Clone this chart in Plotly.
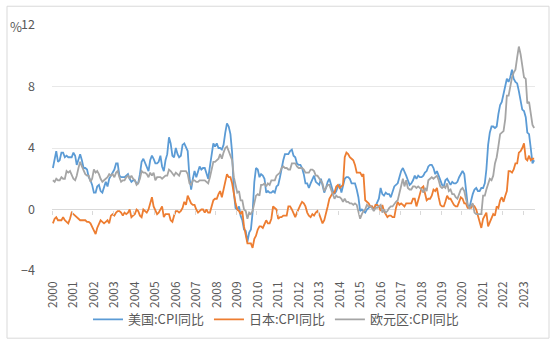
import pandas as pd
import plotly.graph_objects as go

# Monthly observations, 2000-01 .. 2023-07
months = pd.date_range("2000-01-01", "2023-07-01", freq="MS")

us_cpi = [
    2.7, 3.2, 3.8, 3.1, 3.2, 3.7, 3.7, 3.4, 3.5, 3.4, 3.4, 3.4,
    3.7, 3.5, 2.9, 3.3, 3.6, 3.2, 2.7, 2.7, 2.6, 2.1, 1.9, 1.6,
    1.1, 1.1, 1.5, 1.6, 1.2, 1.1, 1.5, 1.8, 1.5, 2.0, 2.2, 2.4,
    2.6, 3.0, 3.0, 2.2, 2.1, 2.1, 2.1, 2.2, 2.3, 2.0, 1.8, 1.9,
    1.9, 1.7, 1.7, 2.3, 3.1, 3.3, 3.0, 2.7, 2.5, 3.2, 3.5, 3.3,
    3.0, 3.0, 3.1, 3.5, 2.8, 2.5, 3.2, 3.6, 4.7, 4.3, 3.5, 3.4,
    4.0, 3.6, 3.4, 3.5, 4.2, 4.3, 4.1, 3.8, 2.1, 1.3, 2.0, 2.5,
    2.1, 2.4, 2.8, 2.6, 2.7, 2.7, 2.4, 2.0, 2.8, 3.5, 4.3, 4.1,
    4.3, 4.0, 4.0, 3.9, 4.2, 5.0, 5.6, 5.4, 4.9, 3.7, 1.1, 0.1,
    0.0, 0.2, -0.4, -0.7, -1.3, -1.4, -2.1, -1.5, -1.3, -0.2, 1.8, 2.7,
    2.6, 2.1, 2.3, 2.2, 2.0, 1.1, 1.2, 1.1, 1.1, 1.2, 1.1, 1.5,
    1.6, 2.1, 2.7, 3.2, 3.6, 3.6, 3.6, 3.8, 3.9, 3.5, 3.4, 3.0,
    2.9, 2.9, 2.7, 2.3, 1.7, 1.7, 1.4, 1.7, 2.0, 2.2, 1.8, 1.7,
    1.6, 2.0, 1.5, 1.1, 1.4, 1.8, 2.0, 1.5, 1.2, 1.0, 1.2, 1.5,
    1.6, 1.1, 1.5, 2.0, 2.1, 2.1, 2.0, 1.7, 1.7, 1.7, 1.3, 0.8,
    -0.1, 0.0, -0.1, -0.2, 0.0, 0.1, 0.2, 0.2, 0.0, 0.2, 0.5, 0.7,
    1.4, 1.0, 0.9, 1.1, 1.0, 1.0, 0.8, 1.1, 1.5, 1.6, 1.7, 2.1,
    2.5, 2.7, 2.4, 2.2, 1.9, 1.6, 1.7, 1.9, 2.2, 2.0, 2.2, 2.1,
    2.1, 2.2, 2.4, 2.5, 2.8, 2.9, 2.9, 2.7, 2.3, 2.5, 2.2, 1.9,
    1.6, 1.5, 1.9, 2.0, 1.8, 1.6, 1.8, 1.7, 1.7, 1.8, 2.1, 2.3,
    2.5, 2.3, 1.5, 0.3, 0.1, 0.6, 1.0, 1.3, 1.4, 1.2, 1.2, 1.4,
    1.4, 1.7, 2.6, 4.2, 5.0, 5.4, 5.4, 5.3, 5.4, 6.2, 6.8, 7.0,
    7.5, 7.9, 8.5, 8.3, 8.6, 9.1, 8.5, 8.3, 8.2, 7.7, 7.1, 6.5,
    6.4, 6.0, 5.0, 4.9, 4.0, 3.0, 3.2,
]

jp_cpi = [
    -0.9, -0.6, -0.5, -0.7, -0.7, -0.7, -0.5, -0.7, -0.8, -0.9, -0.6, -0.2,
    -0.3, -0.4, -0.5, -0.6, -0.7, -0.7, -0.7, -0.7, -0.8, -0.8, -0.9, -1.1,
    -1.4, -1.6, -1.2, -0.9, -0.7, -0.8, -0.9, -0.8, -0.7, -0.9, -0.4, -0.3,
    -0.4, -0.2, -0.1, -0.1, -0.2, -0.4, -0.2, -0.3, -0.2, 0.0, -0.5, -0.4,
    -0.3, 0.0, -0.1, -0.4, -0.5, 0.0, -0.1, -0.2, 0.0, 0.5, 0.8, 0.2,
    -0.1, -0.3, -0.2, 0.0, 0.2, -0.5, -0.3, -0.3, -0.3, -0.7, -0.8, -0.4,
    -0.1, -0.1, -0.2, -0.1, 0.1, 0.5, 0.3, 0.9, 0.6, 0.4, 0.3, 0.3,
    0.0, -0.2, -0.1, 0.0, 0.0, -0.2, 0.0, -0.2, -0.2, 0.3, 0.6, 0.7,
    0.7, 1.0, 1.2, 0.8, 1.3, 2.0, 2.3, 2.1, 2.1, 1.7, 1.0, 0.4,
    0.0, -0.1, -0.3, -0.1, -1.1, -1.8, -2.2, -2.2, -2.2, -2.5, -1.9, -1.7,
    -1.3, -1.1, -1.1, -1.2, -0.9, -0.7, -0.9, -0.9, -0.6, 0.2, 0.1, 0.0,
    -0.6, -0.5, -0.5, -0.4, -0.4, -0.4, 0.2, 0.2, 0.0, -0.2, -0.5, -0.2,
    0.1, 0.3, 0.5, 0.4, 0.2, -0.2, -0.4, -0.5, -0.3, -0.4, -0.2, -0.1,
    -0.3, -0.7, -0.9, -0.7, -0.3, 0.2, 0.7, 0.9, 1.1, 1.1, 1.5, 1.6,
    1.4, 1.5, 1.6, 3.4, 3.7, 3.6, 3.4, 3.3, 3.2, 2.9, 2.4, 2.4,
    2.4, 2.2, 2.3, 0.6, 0.5, 0.4, 0.2, 0.2, 0.0, 0.3, 0.3, 0.2,
    -0.1, 0.3, -0.1, -0.3, -0.5, -0.4, -0.4, -0.5, -0.5, 0.1, 0.5, 0.3,
    0.4, 0.3, 0.2, 0.4, 0.4, 0.4, 0.4, 0.7, 0.7, 0.2, 0.6, 1.0,
    1.4, 1.5, 1.1, 0.6, 0.7, 0.7, 0.9, 1.3, 1.2, 1.4, 0.8, 0.3,
    0.2, 0.2, 0.5, 0.9, 0.7, 0.7, 0.5, 0.3, 0.2, 0.2, 0.5, 0.8,
    0.7, 0.4, 0.4, 0.1, 0.1, 0.1, 0.3, 0.2, 0.0, -0.4, -0.9, -1.2,
    -0.6, -0.4, -0.2, -1.1, -0.8, -0.5, -0.3, -0.4, 0.2, 0.1, 0.6, 0.8,
    0.5, 0.9, 1.2, 2.5, 2.5, 2.4, 2.6, 3.0, 3.0, 3.7, 3.8, 4.0,
    4.3, 3.3, 3.2, 3.5, 3.2, 3.3, 3.3,
]

ea_cpi = [
    1.9, 1.8, 2.0, 1.9, 1.9, 2.1, 2.0, 2.0, 2.5, 2.4, 2.5, 2.2,
    2.0, 1.9, 2.2, 2.7, 3.1, 2.8, 2.6, 2.3, 2.2, 2.2, 1.8, 2.0,
    2.6, 2.4, 2.5, 2.3, 2.0, 1.8, 1.9, 2.0, 2.1, 2.3, 2.2, 2.3,
    2.1, 2.4, 2.5, 2.1, 1.8, 1.9, 1.9, 2.1, 2.2, 2.0, 2.2, 2.0,
    1.9, 1.6, 1.7, 2.0, 2.5, 2.4, 2.4, 2.3, 2.1, 2.4, 2.2, 2.4,
    1.9, 2.1, 2.1, 2.1, 2.0, 2.1, 2.2, 2.2, 2.6, 2.5, 2.3, 2.2,
    2.4, 2.3, 2.2, 2.5, 2.5, 2.5, 2.5, 2.3, 1.7, 1.6, 1.9, 1.9,
    1.8, 1.8, 1.9, 1.9, 1.9, 1.9, 1.8, 1.7, 2.1, 2.6, 3.1, 3.1,
    3.2, 3.3, 3.6, 3.3, 3.7, 4.0, 4.1, 3.8, 3.6, 3.2, 2.1, 1.6,
    1.1, 1.2, 0.6, 0.6, 0.0, -0.1, -0.6, -0.2, -0.3, -0.1, 0.5, 0.9,
    1.0, 0.9, 1.6, 1.6, 1.7, 1.5, 1.7, 1.6, 1.9, 1.9, 1.9, 2.2,
    2.3, 2.4, 2.7, 2.8, 2.7, 2.7, 2.6, 2.6, 3.0, 3.0, 3.0, 2.8,
    2.7, 2.7, 2.7, 2.6, 2.4, 2.4, 2.4, 2.6, 2.6, 2.5, 2.2, 2.2,
    2.0, 1.8, 1.7, 1.2, 1.4, 1.6, 1.6, 1.3, 1.1, 0.7, 0.9, 0.8,
    0.8, 0.7, 0.5, 0.7, 0.5, 0.5, 0.4, 0.4, 0.3, 0.4, 0.3, -0.2,
    -0.6, -0.3, -0.1, 0.0, 0.3, 0.2, 0.2, 0.1, -0.1, 0.1, 0.1, 0.2,
    0.3, -0.2, 0.0, -0.2, -0.1, 0.1, 0.2, 0.2, 0.4, 0.5, 0.6, 1.1,
    1.7, 2.0, 1.5, 1.9, 1.4, 1.3, 1.3, 1.5, 1.5, 1.4, 1.5, 1.4,
    1.3, 1.1, 1.4, 1.2, 1.9, 2.0, 2.1, 2.0, 2.1, 2.2, 1.9, 1.5,
    1.4, 1.5, 1.4, 1.7, 1.2, 1.3, 1.0, 1.0, 0.8, 0.7, 1.0, 1.3,
    1.4, 1.2, 0.7, 0.3, 0.1, 0.3, 0.4, -0.2, -0.3, -0.3, -0.3, -0.3,
    0.9, 0.9, 1.3, 1.6, 2.0, 1.9, 2.2, 3.0, 3.4, 4.1, 4.9, 5.0,
    5.1, 5.9, 7.4, 7.4, 8.1, 8.6, 8.9, 9.1, 9.9, 10.6, 10.1, 9.2,
    8.6, 8.5, 6.9, 7.0, 6.1, 5.5, 5.3,
]

series_names = ["美国:CPI同比", "日本:CPI同比", "欧元区:CPI同比"]
series_values = [us_cpi, jp_cpi, ea_cpi]
series_colors = ["#5B9BD5", "#ED7D31", "#A5A5A5"]

W, H = 554, 346
ML, MR, MT, MB = 52, 19, 25, 72
PW, PH = W - ML - MR, H - MT - MB

def px_x(p):
    return (p - ML) / PW

def px_y(p):
    return (H - MB - p) / PH

FONT = "Noto Sans CJK SC, Noto Sans, sans-serif"
TXT = "#595959"

fig = go.Figure()
for name, vals, color in zip(series_names, series_values, series_colors):
    fig.add_trace(go.Scatter(
        x=months, y=vals, mode="lines", name=name,
        line=dict(color=color, width=1.8),
    ))

# helper trace so the zero-line tick axis is drawn
fig.add_trace(go.Scatter(x=[months[0]], y=[None], xaxis="x2", showlegend=False,
                         hoverinfo="skip", mode="lines"))

x_range = ["1999-12-16", "2023-07-16"]
fig.update_layout(
    width=W, height=H,
    margin=dict(l=ML, r=MR, t=MT, b=MB),
    paper_bgcolor="white", plot_bgcolor="white",
    font=dict(family=FONT, color=TXT, size=12),
    showlegend=True,
    legend=dict(orientation="h", x=px_x(276), xanchor="center",
                y=px_y(323), yanchor="middle",
                font=dict(size=13, color=TXT), itemwidth=30,
                bgcolor="rgba(0,0,0,0)"),
    xaxis=dict(type="date", range=x_range, tick0="2000-01-01", dtick="M12",
               tickformat="%Y", tickangle=-90, showgrid=False, showline=False,
               zeroline=False, ticks="", ticklabelstandoff=7,
               tickfont=dict(size=12, color=TXT)),
    xaxis2=dict(type="date", range=x_range, overlaying="x", anchor="free",
                position=px_y(212), tick0="1999-12-16", dtick="M12",
                showticklabels=False, ticks="outside", ticklen=4,
                tickcolor="#d9d9d9", tickwidth=1, showgrid=False,
                showline=False, zeroline=False),
    yaxis=dict(range=[-4, 12], dtick=4, showgrid=True, gridcolor="#e8e8e8",
               gridwidth=1, zeroline=True, zerolinecolor="#d9d9d9",
               zerolinewidth=1, showline=False, ticks="",
               ticklabelstandoff=16, tickfont=dict(size=12.5, color=TXT)),
    annotations=[dict(text="%", x=px_x(16), y=px_y(27), xref="paper",
                      yref="paper", showarrow=False, xanchor="center",
                      yanchor="middle", font=dict(size=13, color=TXT))],
    shapes=[dict(type="rect", xref="paper", yref="paper",
                 x0=px_x(7), x1=px_x(549), y0=px_y(342), y1=px_y(6),
                 line=dict(color="#d9d9d9", width=1), layer="below")],
)

fig.write_html("out.html")
